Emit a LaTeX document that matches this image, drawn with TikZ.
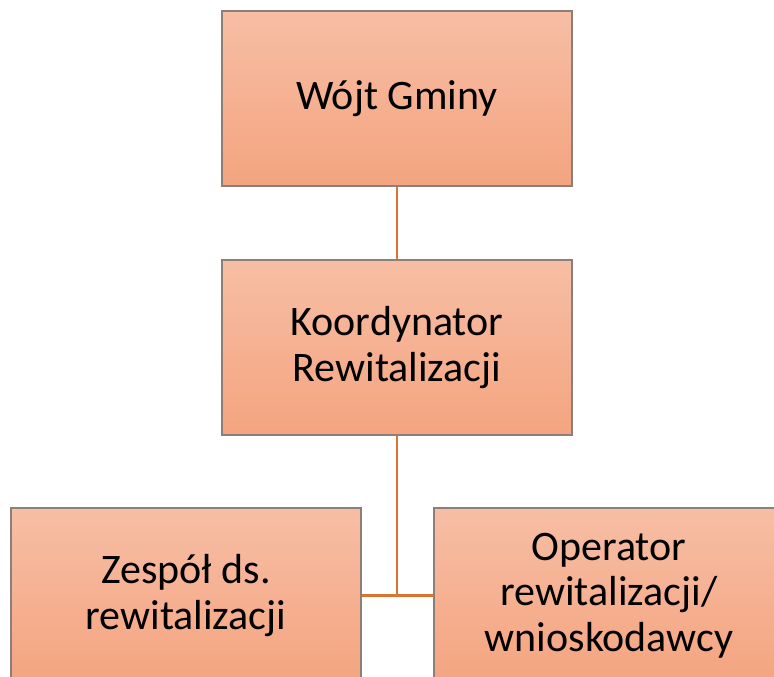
\documentclass[tikz,border=0pt]{standalone}
\usepackage{fontspec}
\setmainfont{Carlito}
\definecolor{boxtop}{HTML}{F7BEA5}
\definecolor{boxbot}{HTML}{F4A47F}
\definecolor{boxedge}{HTML}{8C7E78}
\definecolor{conn}{HTML}{DC7431}
\tikzset{
  orgbox/.style={draw=boxedge, line width=1.2pt, rectangle, top color=boxtop, bottom color=boxbot,
    minimum width=350pt, minimum height=175pt, align=center, inner sep=0pt,
    font=\fontsize{42}{45.5}\selectfont},
  link/.style={draw=conn, line width=2.8pt}
}
\begin{document}
\begin{tikzpicture}[x=1pt,y=-1pt]
\useasboundingbox (0,0) rectangle (774,677);
\clip (0,0) rectangle (774,677);
\fill[white] (0,0) rectangle (774,677);
\node[orgbox] (wojt) at (397,98.5) {Wójt Gminy};
\node[orgbox] (koord) at (397,347.5) {Koordynator\\Rewitalizacji};
\node[orgbox] (zesp) at (186,595.5) {Zespół ds.\\rewitalizacji};
\node[orgbox] (oper) at (609,595.5) {Operator\\rewitalizacji/\\wnioskodawcy};
\coordinate (j) at (koord.south |- zesp.east);
\draw[link] (wojt.south) -- (koord.north);
\draw[link] (koord.south) -- (j);
\draw[link] (zesp.east) -- (oper.west);
\end{tikzpicture}
\end{document}
